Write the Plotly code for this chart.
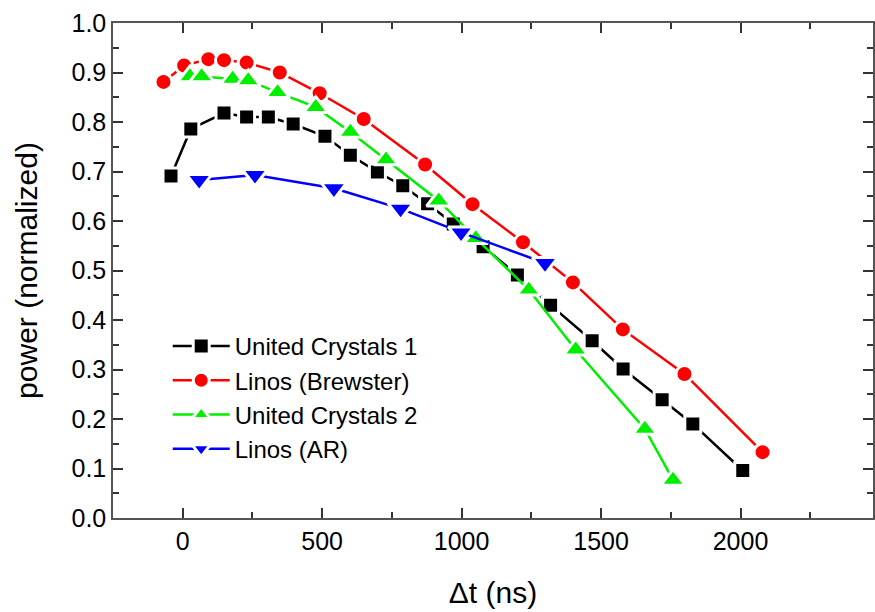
import plotly.graph_objects as go

# Delay between pulses (ns) and normalized output power for each crystal
uc1_t = [-42, 29, 148, 229, 307, 396, 510, 601, 698, 789, 878, 970, 1077,
         1200, 1319, 1468, 1579, 1719, 1829, 2008]
uc1_p = [0.691, 0.786, 0.818, 0.810, 0.810, 0.796, 0.771, 0.733, 0.699, 0.671,
         0.635, 0.594, 0.548, 0.491, 0.430, 0.358, 0.301, 0.239, 0.190, 0.096]

brew_t = [-69, 5, 92, 148, 229, 348, 491, 649, 869, 1039, 1220, 1399, 1578,
          1799, 2079]
brew_p = [0.881, 0.914, 0.927, 0.925, 0.920, 0.900, 0.858, 0.806, 0.714, 0.634,
          0.557, 0.476, 0.381, 0.291, 0.133]

uc2_t = [26, 68, 179, 235, 340, 477, 601, 729, 918, 1051, 1241, 1409, 1657, 1758]
uc2_p = [0.892, 0.892, 0.887, 0.884, 0.860, 0.830, 0.780, 0.724, 0.641, 0.565,
         0.461, 0.340, 0.180, 0.077]

ar_t = [59, 259, 542, 781, 998, 1299]
ar_p = [0.683, 0.693, 0.666, 0.625, 0.577, 0.515]

series = [
    ("United Crystals 1", uc1_t, uc1_p, "#000000", "square", 16),
    ("Linos (Brewster)", brew_t, brew_p, "#ff0000", "circle", 17),
    ("United Crystals 2", uc2_t, uc2_p, "#00ee00", "triangle-up", 21),
    ("Linos (AR)", ar_t, ar_p, "#0000ff", "triangle-down", 22),
]

FONT = "Liberation Sans, Arial, sans-serif"

fig = go.Figure()
for name, t, p, color, symbol, size in series:
    fig.add_trace(go.Scatter(
        x=t, y=p, name=name, mode="lines+markers",
        line=dict(color=color, width=2.5),
        marker=dict(symbol=symbol, size=size, color=color,
                    line=dict(color="white", width=3)),
    ))

axis_common = dict(
    showline=True, linecolor="#555555", linewidth=1.5, mirror="ticks",
    ticks="inside", ticklen=10, tickwidth=1.5, tickcolor="#333333",
    showgrid=False, zeroline=False,
    tickfont=dict(family=FONT, size=25, color="black"),
)

fig.update_xaxes(
    range=[-250, 2475], tick0=0, dtick=500,
    minor=dict(ticks="inside", ticklen=6, tickwidth=1.5, tickcolor="#333333",
               dtick=250, tick0=0),
    title=dict(text="Δt (ns)", font=dict(family=FONT, size=30, color="black"),
               standoff=28),
    **axis_common,
)
fig.update_yaxes(
    range=[0, 1.0], tick0=0, dtick=0.1, tickformat=".1f",
    minor=dict(ticks="inside", ticklen=6, tickwidth=1.5, tickcolor="#333333",
               dtick=0.05, tick0=0),
    title=dict(text="power (normalized)",
               font=dict(family=FONT, size=30, color="black"), standoff=25),
    **axis_common,
)

fig.update_layout(
    width=875, height=612,
    margin=dict(l=113, r=0, t=23, b=94),
    paper_bgcolor="white", plot_bgcolor="white",
    legend=dict(
        x=0.072, y=0.392, xanchor="left", yanchor="top",
        font=dict(family=FONT, size=24, color="black"),
        bgcolor="rgba(0,0,0,0)", borderwidth=0,
        itemwidth=57, tracegroupgap=0,
    ),
)

fig.write_html("out.html")
